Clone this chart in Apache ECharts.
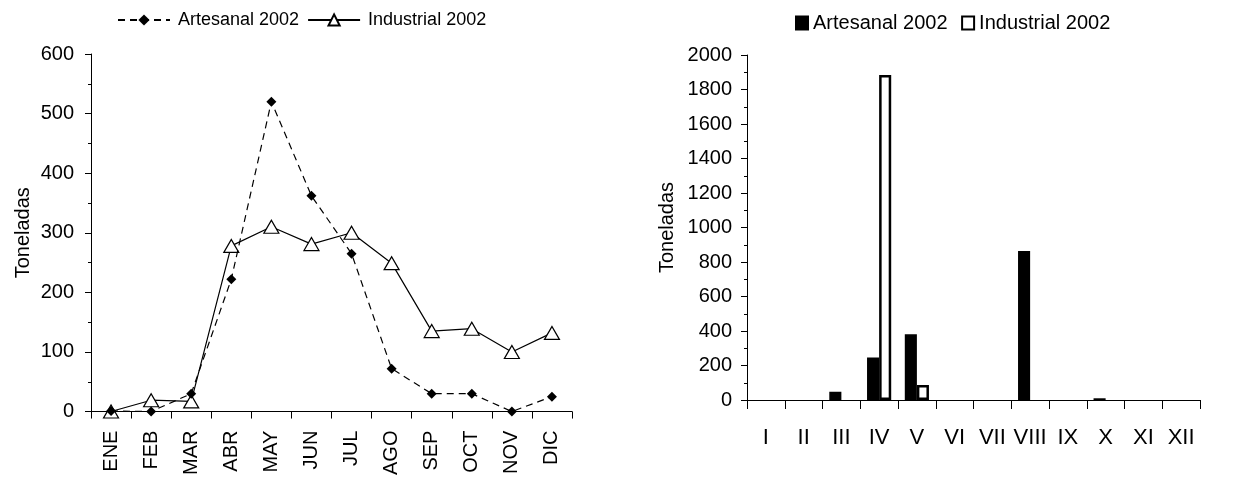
<!DOCTYPE html>
<html>
<head>
<meta charset="utf-8">
<script src="https://cdn.jsdelivr.net/npm/echarts@6/dist/echarts.min.js"></script>
<style>
  html, body { margin: 0; padding: 0; background: #fff; }
  #chart-container { width: 1251px; height: 478px; }
</style>
</head>
<body>
<div id="chart-container"></div>
<script>
var meses = ['ENE', 'FEB', 'MAR', 'ABR', 'MAY', 'JUN', 'JUL', 'AGO', 'SEP', 'OCT', 'NOV', 'DIC'];
var artesanalMes = [1, 0, 30, 222, 520, 362, 265, 72, 30, 30, 0, 25];
var industrialMes = [0, 19, 17, 278, 310, 281, 300, 249, 135, 139, 100, 132];

var romanos = ['I', 'II', 'III', 'IV', 'V', 'VI', 'VII', 'VIII', 'IX', 'X', 'XI', 'XII'];
var artesanalBar = [0, 0, 48, 247, 381, 0, 0, 864, 0, 10, 0, 0];
var industrialBar = [0, 0, 0, 1884, 87, 0, 0, 0, 0, 0, 0, 0];

var leftTicks = [0, 100, 200, 300, 400, 500, 600];
var rightTicks = [0, 200, 400, 600, 800, 1000, 1200, 1400, 1600, 1800, 2000];

var font = 'Liberation Sans, Arial, sans-serif';
var chartDom = document.getElementById('chart-container');
var myChart = echarts.init(chartDom);

// empty months have no bar at all in the original
function sinCero(arr) {
  return arr.map(function (v) { return v === 0 ? '-' : v; });
}

var axisBase = {
  axisLine: { show: true, lineStyle: { color: '#000', width: 1 } },
  splitLine: { show: false }
};

option = {
  animation: false,
  textStyle: { fontFamily: font, color: '#000' },
  legend: [
    {
      left: 112,
      top: 6,
      itemGap: 8,
      itemWidth: 52,
      itemHeight: 14,
      textStyle: { fontSize: 18, fontFamily: font, color: '#000', padding: [0, 0, 0, 3] },
      data: ['Artesanal 2002', 'Industrial 2002']
    },
    {
      left: 790,
      top: 8,
      itemGap: 8,
      itemWidth: 12,
      itemHeight: 13,
      icon: 'rect',
      textStyle: { fontSize: 20, fontFamily: font, color: '#000' },
      data: ['Artesanal 2002 ', 'Industrial 2002 ']
    }
  ],
  grid: [
    { left: 91, top: 54, width: 481, height: 359 },
    { left: 747, top: 55, width: 453, height: 345 }
  ],
  xAxis: [
    Object.assign({}, axisBase, {
      type: 'category',
      gridIndex: 0,
      data: meses,
      boundaryGap: true,
      axisTick: { show: true, interval: 0, length: 7, lineStyle: { color: '#000' } },
      axisLabel: { interval: 0, rotate: 90, margin: 19, fontSize: 20, color: '#000', fontFamily: font }
    }),
    Object.assign({}, axisBase, {
      type: 'category',
      gridIndex: 1,
      data: romanos,
      boundaryGap: true,
      axisTick: { show: true, interval: 0, length: 9, lineStyle: { color: '#000' } },
      axisLabel: { interval: 0, margin: 27, fontSize: 22, color: '#000', fontFamily: font }
    })
  ],
  yAxis: [
    Object.assign({}, axisBase, {
      type: 'value',
      gridIndex: 0,
      min: leftTicks[0],
      max: leftTicks[leftTicks.length - 1],
      interval: 100,
      name: 'Toneladas',
      nameLocation: 'middle',
      nameGap: 58,
      nameTextStyle: { fontSize: 20, color: '#000', fontFamily: font },
      axisTick: { show: true, length: 6, lineStyle: { color: '#000' } },
      minorTick: { show: true, splitNumber: 2, length: 3, lineStyle: { color: '#000' } },
      axisLabel: { margin: 17, fontSize: 20, color: '#000', fontFamily: font }
    }),
    Object.assign({}, axisBase, {
      type: 'value',
      gridIndex: 1,
      min: rightTicks[0],
      max: rightTicks[rightTicks.length - 1],
      interval: 200,
      name: 'Toneladas',
      nameLocation: 'middle',
      nameGap: 70,
      nameTextStyle: { fontSize: 20, color: '#000', fontFamily: font },
      axisTick: { show: true, length: 6, lineStyle: { color: '#000' } },
      minorTick: { show: true, splitNumber: 2, length: 3, lineStyle: { color: '#000' } },
      axisLabel: {
        margin: 15, fontSize: 20, color: '#000', fontFamily: font,
        formatter: function (v) { return String(v); }
      }
    })
  ],
  series: [
    {
      name: 'Industrial 2002',
      type: 'line',
      xAxisIndex: 0,
      yAxisIndex: 0,
      data: industrialMes,
      z: 2,
      symbol: 'triangle',
      symbolSize: [15, 13],
      showAllSymbol: true,
      lineStyle: { color: '#000', width: 1.2 },
      itemStyle: { color: '#fff', borderColor: '#000', borderWidth: 1.2 }
    },
    {
      name: 'Artesanal 2002',
      type: 'line',
      xAxisIndex: 0,
      yAxisIndex: 0,
      data: artesanalMes,
      z: 3,
      symbol: 'diamond',
      symbolSize: 10,
      showAllSymbol: true,
      lineStyle: { color: '#000', width: 1.2, type: [7, 5] },
      itemStyle: { color: '#000', borderColor: '#000', borderWidth: 0 }
    },
    {
      name: 'Artesanal 2002 ',
      type: 'bar',
      xAxisIndex: 1,
      yAxisIndex: 1,
      data: sinCero(artesanalBar),
      barGap: '0%',
      barCategoryGap: '36%',
      itemStyle: { color: '#000', borderColor: '#000', borderWidth: 1.5 }
    },
    {
      name: 'Industrial 2002 ',
      type: 'bar',
      xAxisIndex: 1,
      yAxisIndex: 1,
      data: sinCero(industrialBar),
      barGap: '0%',
      barCategoryGap: '36%',
      itemStyle: { color: '#fff', borderColor: '#000', borderWidth: 2.5 }
    }
  ]
};

option && myChart.setOption(option);
</script>
</body>
</html>
